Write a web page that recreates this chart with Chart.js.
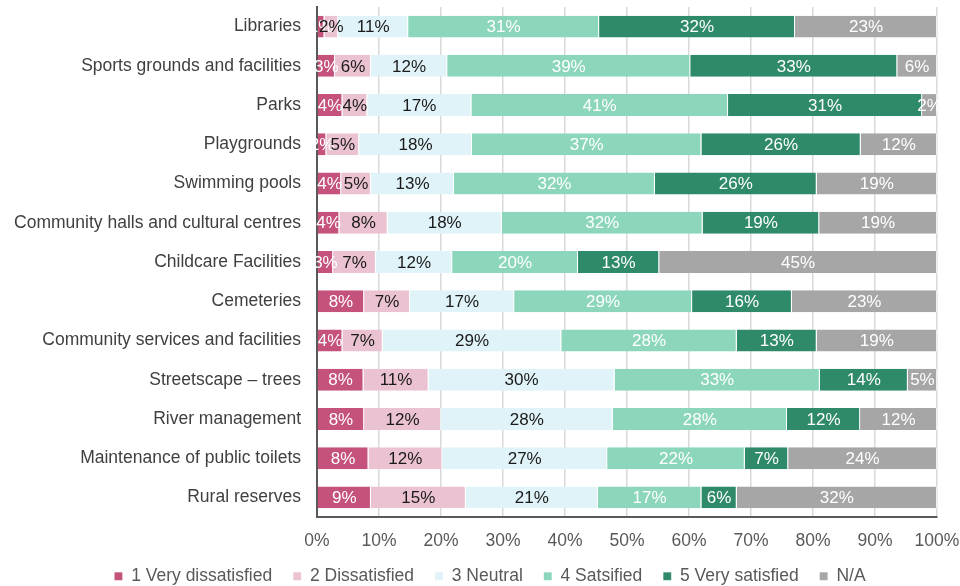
<!DOCTYPE html>
<html>
<head>
<meta charset="utf-8">
<script src="https://cdn.jsdelivr.net/npm/chart.js@4.4.1/dist/chart.umd.min.js"></script>
<style>
  html, body { margin: 0; padding: 0; background: #fff; }
  #wrap { width: 960px; height: 586px; position: relative; }
</style>
</head>
<body>
<div id="wrap"><canvas id="chart"></canvas></div>
<script>
// Satisfaction with council facilities (% of respondents)
const categories = [
    'Libraries',
    'Sports grounds and facilities',
    'Parks',
    'Playgrounds',
    'Swimming pools',
    'Community halls and cultural centres',
    'Childcare Facilities',
    'Cemeteries',
    'Community services and facilities',
    'Streetscape \u2013 trees',
    'River management',
    'Maintenance of public toilets',
    'Rural reserves'
];

const veryDissatisfied = [1.2, 2.9, 4.1, 1.5, 3.9, 3.6, 2.6, 7.6, 4.1, 7.5, 7.6, 8.3, 8.7];
const dissatisfied     = [2.2, 5.8, 4.0, 5.3, 4.8, 7.8, 6.9, 7.4, 6.5, 10.5, 12.4, 11.9, 15.3];
const neutral          = [11.3, 12.3, 16.8, 18.2, 13.4, 18.4, 12.3, 16.8, 28.8, 30.0, 27.7, 26.6, 21.3];
const satisfied        = [30.8, 39.2, 41.4, 37.0, 32.4, 32.4, 20.3, 28.7, 28.3, 33.1, 28.1, 22.2, 16.7];
const verySatisfied    = [31.6, 33.4, 31.3, 25.7, 26.1, 18.8, 13.1, 16.1, 12.9, 14.2, 11.8, 7.0, 5.7];
const notApplicable    = [22.9, 6.4, 2.4, 12.3, 19.4, 19.0, 44.8, 23.4, 19.4, 4.7, 12.4, 24.0, 32.3];

const xTicks = [0, 10, 20, 30, 40, 50, 60, 70, 80, 90, 100];

const FONT = '"Liberation Sans", Arial, sans-serif';
const FSIZE = 17.5;

const series = [
    { label: '1 Very dissatisfied', data: veryDissatisfied, color: '#c4527c', text: '#ffffff' },
    { label: '2 Dissatisfied',      data: dissatisfied,     color: '#ebc2d1', text: '#1a1a1a' },
    { label: '3 Neutral',           data: neutral,          color: '#e0f3f8', text: '#1a1a1a' },
    { label: '4 Satsified',         data: satisfied,        color: '#8cd7bb', text: '#ffffff' },
    { label: '5 Very satisfied',    data: verySatisfied,    color: '#2f8a69', text: '#ffffff' },
    { label: 'N/A',                 data: notApplicable,    color: '#a6a6a6', text: '#ffffff' }
];

// draws the percentage in the middle of every segment
const segmentLabels = {
    id: 'segmentLabels',
    afterDatasetsDraw(chart) {
        const ctx = chart.ctx;
        ctx.save();
        ctx.font = '17px ' + FONT;
        ctx.textAlign = 'center';
        ctx.textBaseline = 'middle';
        chart.data.datasets.forEach((ds, i) => {
            const meta = chart.getDatasetMeta(i);
            meta.data.forEach((bar, j) => {
                const v = ds.data[j];
                if (!v) return;
                const cx = (bar.x + bar.base) / 2;
                ctx.fillStyle = series[i].text;
                ctx.fillText(Math.round(v) + '%', cx, bar.y + 1);
            });
        });
        ctx.restore();
    }
};

// legend in the original sits a little right of the canvas centre
const legendShift = {
    id: 'legendShift',
    beforeDraw(chart) {
        if (chart.legend) chart.legend.left = 20;
    }
};

new Chart(document.getElementById('chart'), {
    type: 'bar',
    data: {
        labels: categories,
        datasets: series.map(s => ({
            label: s.label,
            data: s.data,
            backgroundColor: s.color,
            borderColor: 'rgba(255,255,255,0.6)',
            borderWidth: { left: 0, right: 1, top: 0, bottom: 0 },
            borderSkipped: false,
            barPercentage: 0.56,
            categoryPercentage: 1.0
        }))
    },
    options: {
        indexAxis: 'y',
        responsive: true,
        maintainAspectRatio: false,
        animation: false,
        layout: { padding: { top: 7, right: 0, left: 0, bottom: -9 } },
        plugins: {
            legend: {
                position: 'bottom',
                labels: {
                    boxWidth: 8,
                    boxHeight: 8,
                    padding: 21,
                    color: '#595959',
                    font: { family: FONT, size: FSIZE }
                }
            },
            tooltip: { enabled: false }
        },
        scales: {
            x: {
                stacked: true,
                min: 0,
                max: 100,
                afterBuildTicks: s => { s.ticks = xTicks.map(v => ({ value: v })); },
                afterFit: s => { s.height = 29.5; s.paddingLeft = 0; s.paddingRight = 23; },
                ticks: {
                    color: '#595959',
                    padding: 14,
                    font: { family: FONT, size: FSIZE },
                    callback: v => v + '%'
                },
                grid: { color: '#d9d9d9', lineWidth: 1.5, drawTicks: false },
                border: { display: true, color: '#595959', width: 2 }
            },
            y: {
                stacked: true,
                afterFit: s => { s.width = 317; s.paddingTop = 0; s.paddingBottom = 0; },
                ticks: {
                    color: '#404040',
                    padding: 16,
                    font: { family: FONT, size: FSIZE }
                },
                grid: { display: false, drawTicks: false },
                border: { display: true, color: '#595959', width: 2 }
            }
        }
    },
    plugins: [segmentLabels, legendShift]
});
</script>
</body>
</html>
